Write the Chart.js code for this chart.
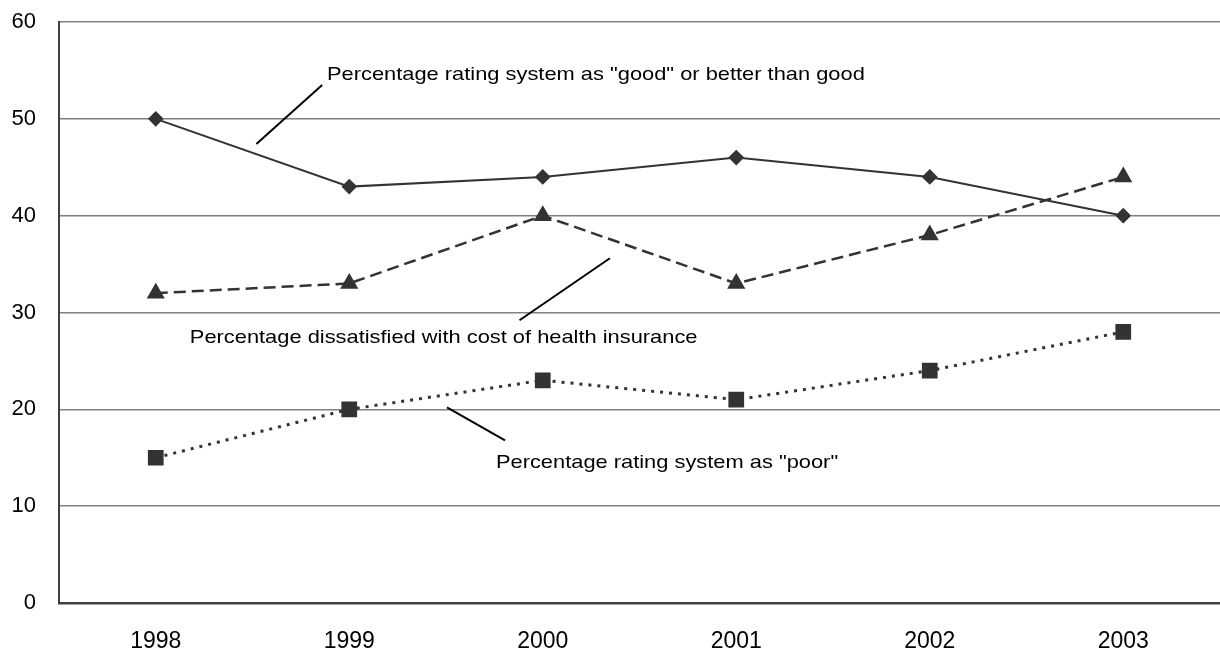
<!DOCTYPE html>
<html>
<head>
<meta charset="utf-8">
<script src="https://cdn.jsdelivr.net/npm/chart.js@4/dist/chart.umd.min.js"></script>
<style>
  html, body { margin: 0; padding: 0; background: #fff; overflow: hidden; }
  #wrap { position: relative; width: 1220px; height: 649px; }
  #trendChart { display: block; }
</style>
</head>
<body>
<div id="wrap"><canvas id="trendChart"></canvas></div>
<script>
const years = ["1998", "1999", "2000", "2001", "2002", "2003"];
const goodOrBetter = [50, 43, 44, 46, 44, 40];
const dissatisfiedCost = [32, 33, 40, 33, 38, 44];
const ratedPoor = [15, 20, 23, 21, 24, 28];

// callout text, anchored in data coordinates (category index, value)
const callouts = [
  { text: 'Percentage rating system as "good" or better than good', at: [0.885, 54.5], line: [[0.52, 47.4], [0.86, 53.5]] },
  { text: "Percentage dissatisfied with cost of health insurance", at: [0.176, 27.4], line: [[1.88, 29.2], [2.347, 35.6]] },
  { text: 'Percentage rating system as "poor"', at: [1.758, 14.5], line: [[1.505, 20.2], [1.805, 16.8]] },
];

const INK = "#333333";
const FONT = "'Liberation Sans', Arial, sans-serif";

const calloutPlugin = {
  id: "callouts",
  afterDatasetsDraw(chart) {
    const { ctx, scales } = chart;
    const step = scales.x.getPixelForValue(1) - scales.x.getPixelForValue(0);
    const px = (i) => scales.x.getPixelForValue(0) + i * step;
    const py = (v) => scales.y.getPixelForValue(v);
    ctx.save();
    ctx.strokeStyle = "#000";
    ctx.lineWidth = 2;
    callouts.forEach((c) => {
      ctx.beginPath();
      ctx.moveTo(px(c.line[0][0]), py(c.line[0][1]));
      ctx.lineTo(px(c.line[1][0]), py(c.line[1][1]));
      ctx.stroke();
      // text is set a little wide
      ctx.save();
      ctx.translate(px(c.at[0]), py(c.at[1]));
      ctx.scale(1.15, 1);
      ctx.font = "19px " + FONT;
      ctx.fillStyle = "#000";
      ctx.textBaseline = "middle";
      ctx.fillText(c.text, 0, 0);
      ctx.restore();
    });
    ctx.restore();
  },
};

// drop the extra room the scales reserve for overhanging tick labels
function noOverhang(scale) {
  scale.paddingTop = 0;
  scale.paddingBottom = 0;
  scale.paddingLeft = 0;
  scale.paddingRight = 0;
}

new Chart(document.getElementById("trendChart").getContext("2d"), {
  type: "line",
  data: {
    labels: years,
    datasets: [
      {
        label: "good or better",
        data: goodOrBetter,
        borderColor: INK,
        backgroundColor: INK,
        borderWidth: 2,
        pointStyle: "rectRot",
        pointRadius: 6.5,
        tension: 0,
      },
      {
        label: "dissatisfied with cost",
        data: dissatisfiedCost,
        borderColor: INK,
        backgroundColor: INK,
        borderWidth: 2.5,
        borderDash: [12, 6],
        pointStyle: "triangle",
        pointRadius: 8,
        tension: 0,
      },
      {
        label: "poor",
        data: ratedPoor,
        borderColor: INK,
        backgroundColor: INK,
        borderWidth: 3,
        borderDash: [3, 6],
        pointStyle: "rect",
        pointRadius: 9,
        tension: 0,
      },
    ],
  },
  options: {
    responsive: true,
    maintainAspectRatio: false,
    animation: false,
    layout: { autoPadding: false, padding: { top: 22, right: 0, left: 0, bottom: 0 } },
    plugins: {
      legend: { display: false },
      tooltip: { enabled: false },
    },
    scales: {
      x: {
        offset: true,
        grid: { display: false, drawTicks: false },
        border: { color: "#404040", width: 2.5 },
        ticks: { color: "#000", font: { family: FONT, size: 23 }, padding: 25, maxRotation: 0 },
        afterFit(scale) { scale.height = 46; noOverhang(scale); },
      },
      y: {
        min: 0,
        max: 60,
        grid: { color: "#808080", lineWidth: 1.5, drawTicks: false },
        border: { color: "#404040", width: 2 },
        ticks: { stepSize: 10, color: "#000", font: { family: FONT, size: 22 }, padding: 23 },
        afterFit(scale) { scale.width = 59; noOverhang(scale); },
      },
    },
  },
  plugins: [calloutPlugin],
});
</script>
</body>
</html>
